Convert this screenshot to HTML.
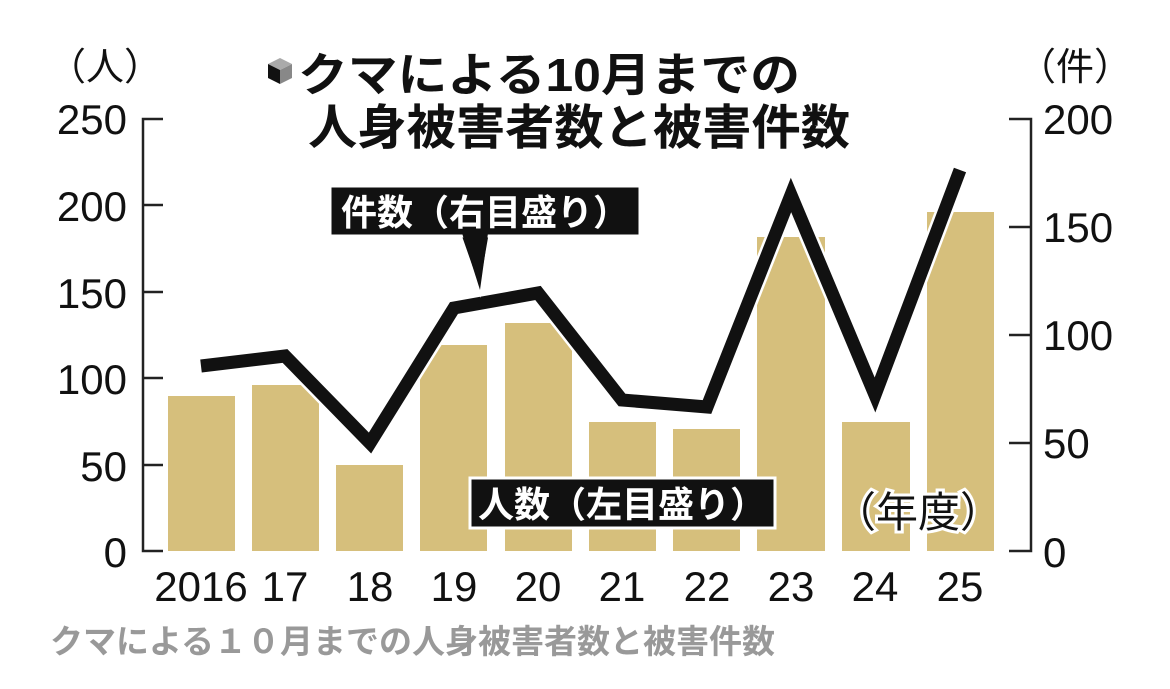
<!DOCTYPE html>
<html><head><meta charset="utf-8"><style>
html,body{margin:0;padding:0;background:#fff;}
svg{display:block;}
text{font-family:"Liberation Sans","Noto Sans CJK JP",sans-serif;}
</style></head><body>
<svg width="1170" height="689" viewBox="0 0 1170 689" xmlns="http://www.w3.org/2000/svg">
<rect width="1170" height="689" fill="#fff"/>
<g fill="#d6bf7c">
<rect x="168" y="396" width="67" height="155"/>
<rect x="252" y="385" width="67" height="166"/>
<rect x="336" y="465" width="67" height="86"/>
<rect x="420" y="345" width="67" height="206"/>
<rect x="505" y="323" width="67" height="228"/>
<rect x="589" y="422" width="67" height="129"/>
<rect x="673" y="429" width="67" height="122"/>
<rect x="757" y="237" width="68" height="314"/>
<rect x="842" y="422" width="68" height="129"/>
<rect x="927" y="212" width="67" height="339"/>
</g>
<g stroke="#222" stroke-width="2.5" fill="none">
<path d="M163 119H143V551H163"/>
<path d="M143 205H163M143 292H163M143 378H163M143 465H163"/>
<path d="M1009 119H1031V551H1009"/>
<path d="M1009 227H1031M1009 335H1031M1009 443H1031"/>
</g>
<g font-size="42" fill="#111" text-anchor="end">
<text x="127" y="134">250</text><text x="127" y="221">200</text><text x="127" y="308">150</text>
<text x="127" y="394">100</text><text x="127" y="481">50</text><text x="127" y="567">0</text>
</g>
<g font-size="42" fill="#111" text-anchor="start">
<text x="1043" y="134">200</text><text x="1043" y="242">150</text><text x="1043" y="350">100</text>
<text x="1043" y="458">50</text><text x="1043" y="567">0</text>
</g>
<text x="48" y="80" font-size="38" fill="#111">（人）</text>
<text x="1018" y="80" font-size="38" fill="#111">（件）</text>
<g font-size="42" fill="#111" text-anchor="middle">
<text x="201" y="601">2016</text><text x="285" y="601">17</text><text x="370" y="601">18</text>
<text x="454" y="601">19</text><text x="538" y="601">20</text><text x="622" y="601">21</text>
<text x="707" y="601">22</text><text x="791" y="601">23</text><text x="875" y="601">24</text><text x="960" y="601">25</text>
</g>
<polyline points="201,366 285,356 370,443 454,308 538,293 622,400 707,407 791,195 875,395 960,170" fill="none" stroke="#fff" stroke-width="18" stroke-linejoin="round"/>
<polyline points="201,366 285,356 370,443 454,308 538,293 622,400 707,407 791,195 875,395 960,170" fill="none" stroke="#111" stroke-width="13" stroke-linejoin="miter"/>
<g>
<path d="M268 64l12-6 12 6-12 6z" fill="#aaa"/><path d="M268 64v14l12 6v-14z" fill="#111"/><path d="M292 64v14l-12 6v-14z" fill="#888"/>
</g>
<text x="298" y="91" font-size="46" font-weight="bold" fill="#111" textLength="502" lengthAdjust="spacingAndGlyphs">クマによる10月までの</text>
<text x="308" y="144" font-size="48" font-weight="bold" fill="#111" textLength="542" lengthAdjust="spacingAndGlyphs">人身被害者数と被害件数</text>
<polygon points="460,235 490,235 480,292" fill="#111" stroke="#fff" stroke-width="3"/>
<rect x="330" y="186" width="310" height="50" fill="#111" stroke="#fff" stroke-width="3"/>
<polygon points="462,233 488,233 480,290" fill="#111"/>
<text x="485" y="225" font-size="36" font-weight="bold" fill="#fff" text-anchor="middle">件数（右目盛り）</text>
<rect x="470" y="478" width="305" height="50" fill="#111" stroke="#fff" stroke-width="3"/>
<text x="622" y="517" font-size="36" font-weight="bold" fill="#fff" text-anchor="middle">人数（左目盛り）</text>
<text x="918" y="527" font-size="42" fill="#111" stroke="#fff" stroke-width="6" paint-order="stroke" text-anchor="middle">（年度）</text>
<text x="50" y="653" font-size="33" font-weight="bold" fill="#999">クマによる１０月までの人身被害者数と被害件数</text>
</svg>
</body></html>
